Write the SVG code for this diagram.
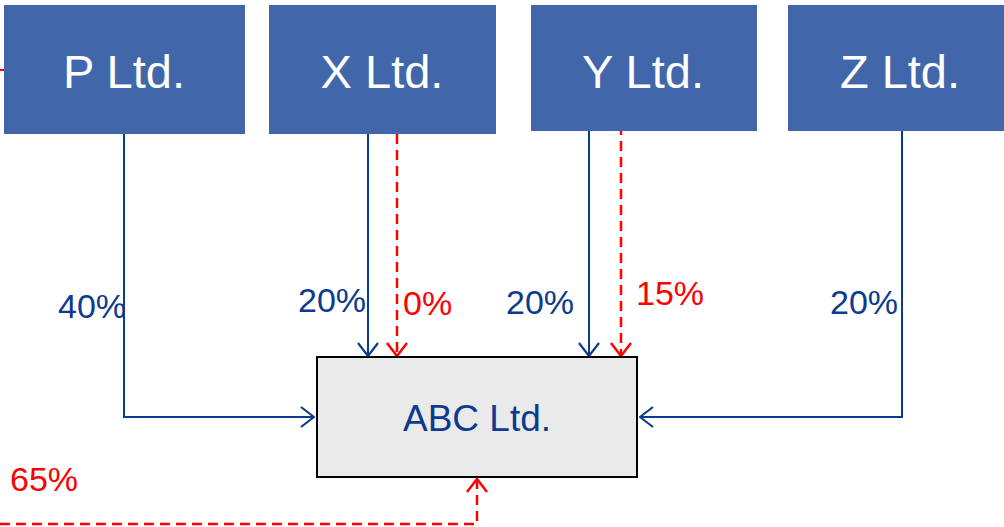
<svg xmlns="http://www.w3.org/2000/svg" width="1004" height="527" viewBox="0 0 1004 527">
<style>
.top{fill:#4167AA;}
.tl{fill:#fff;font-family:"Liberation Sans",Arial,sans-serif;font-size:47px;text-anchor:middle;}
.blue{stroke:#0B3A8F;stroke-width:2;fill:none;}
.red{stroke:#FF0000;stroke-width:2.5;fill:none;stroke-dasharray:10 6;}
.lb{font-family:"Liberation Sans",Arial,sans-serif;font-size:34px;fill:#0B3A8F;}
.lr{font-family:"Liberation Sans",Arial,sans-serif;font-size:34px;fill:#FF0000;}
</style>
<defs>
<marker id="ab" viewBox="0 0 15 22" refX="14" refY="11" markerWidth="15" markerHeight="22" markerUnits="userSpaceOnUse" orient="auto">
<path d="M1,1 L14,11 L1,21" fill="none" stroke="#0B3A8F" stroke-width="2.2"/>
</marker>
<marker id="ar" viewBox="0 0 15 22" refX="14" refY="11" markerWidth="15" markerHeight="22" markerUnits="userSpaceOnUse" orient="auto">
<path d="M1,1 L14,11 L1,21" fill="none" stroke="#FF0000" stroke-width="2.5"/>
</marker>
</defs>
<g id="connectors">
<path class="blue" d="M124,134 V417 H314" marker-end="url(#ab)"/>
<path class="blue" d="M368,134 V356" marker-end="url(#ab)"/>
<path class="red" d="M397,134 V356" marker-end="url(#ar)"/>
<path class="blue" d="M589,125 V356" marker-end="url(#ab)"/>
<path class="red" d="M621,125 V356" marker-end="url(#ar)"/>
<path class="blue" d="M902,130 V417 H640" marker-end="url(#ab)"/>
<path class="red" d="M0,524 H477 V479" marker-end="url(#ar)"/>
<path d="M0,70 H5" stroke="#FF0000" stroke-width="2"/>
<text class="lb" x="58" y="318">40%</text>
<text class="lb" x="298" y="312">20%</text>
<text class="lr" x="403" y="315">0%</text>
<text class="lb" x="506" y="314">20%</text>
<text class="lr" x="636" y="305">15%</text>
<text class="lb" x="830" y="314">20%</text>
<text class="lr" x="10" y="491">65%</text>
</g>
<g id="p"><rect class="top" x="4" y="5" width="241" height="129"/><text class="tl" x="124" y="88">P Ltd.</text></g>
<g id="x"><rect class="top" x="269" y="5" width="227" height="129"/><text class="tl" x="382" y="88">X Ltd.</text></g>
<g id="y"><rect class="top" x="531" y="5" width="226" height="126"/><text class="tl" x="643" y="88">Y Ltd.</text></g>
<g id="z"><rect class="top" x="788" y="5" width="216" height="126"/><text class="tl" x="900" y="88">Z Ltd.</text></g>
<g id="abc"><rect x="317" y="357" width="320" height="120" fill="#EAEAEA" stroke="#000" stroke-width="2"/><text x="477" y="431" font-family="'Liberation Sans',Arial,sans-serif" font-size="37" fill="#0B3A8F" text-anchor="middle">ABC Ltd.</text></g>
</svg>
